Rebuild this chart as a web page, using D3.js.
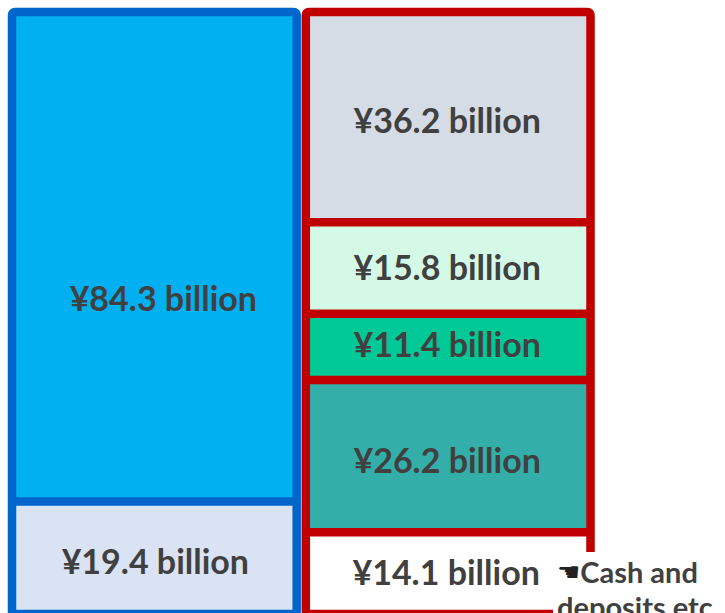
<!DOCTYPE html>
<html>
<head>
<meta charset="utf-8">
<script src="https://cdn.jsdelivr.net/npm/d3@7"></script>
<style>
  body { margin: 0; background: #fff; }
  svg { display: block; }
</style>
</head>
<body>
<div id="chart-area"></div>
<script>
// data (billions of yen)
var columns = ["left", "right"];
var leftValues = [84.3, 19.4];
var rightValues = [36.2, 15.8, 11.4, 26.2, 14.1];
var noteLines = ["Cash and", "deposits etc."];

var width = 725, height = 613;

// styles
var leftFills = ["#00B0F0", "#DAE3F3"];
var rightFills = ["#D6DCE5", "#D4F9E6", "#00C896", "#33AEA8", "#FFFFFF"];
var borderColors = {left: "#0066CC", right: "#C00000"};
var labelColor = "#404040";
// manual label nudges (dx, dy) like the original hand placed labels
var leftNudge = [[9, 42], [1, 4]];
var rightNudge = [[-1, 4], [-1, 0], [-1, -2], [-1, 5], [-2, 0]];

var svg = d3.select("#chart-area")
    .append("svg")
    .attr("width", width)
    .attr("height", height);

var total = d3.sum(leftValues);

// scales
var x = d3.scaleBand()
    .domain(columns)
    .range([12, 590.5])
    .paddingInner(0.031);

var y = d3.scaleLinear()
    .domain([0, total])
    .range([12, 614]);

function stack(values) {
    var out = [], acc = 0;
    for (var i = 0; i < values.length; i++) {
        out.push({y0: acc, y1: acc + values[i], value: values[i], i: i});
        acc += values[i];
    }
    return out;
}

function drawColumn(name, values, fills, nudge) {
    var segs = stack(values);
    var color = borderColors[name];
    var x0 = x(name), bw = x.bandwidth();
    var g = svg.append("g").attr("class", "col-" + name);

    g.selectAll("rect.seg")
        .data(segs)
        .enter()
        .append("rect")
        .attr("class", "seg")
        .attr("x", x0)
        .attr("y", function (d) { return y(d.y0); })
        .attr("width", bw)
        .attr("height", function (d) { return y(d.y1) - y(d.y0); })
        .attr("fill", function (d) { return fills[d.i]; });

    // dividers between segments
    g.selectAll("line.div")
        .data(segs.slice(0, segs.length - 1))
        .enter()
        .append("line")
        .attr("x1", x0)
        .attr("x2", x0 + bw)
        .attr("y1", function (d) { return y(d.y1); })
        .attr("y2", function (d) { return y(d.y1); })
        .attr("stroke", color)
        .attr("stroke-width", 8.5);

    // outer border
    g.append("rect")
        .attr("x", x0)
        .attr("y", y(0))
        .attr("width", bw)
        .attr("height", y(total) - y(0))
        .attr("rx", 3)
        .attr("fill", "none")
        .attr("stroke", color)
        .attr("stroke-width", 8.5);

    g.selectAll("text.lbl")
        .data(segs)
        .enter()
        .append("text")
        .attr("class", "lbl")
        .attr("x", function (d) { return x0 + bw / 2 + nudge[d.i][0]; })
        .attr("y", function (d) { return (y(d.y0) + y(d.y1)) / 2 + nudge[d.i][1]; })
        .attr("dy", "0.35em")
        .attr("text-anchor", "middle")
        .attr("font-family", "Lato, 'Open Sans', sans-serif")
        .attr("font-weight", "bold")
        .attr("font-size", "34px")
        .attr("fill", labelColor)
        .text(function (d) { return "¥" + d.value.toFixed(1) + " billion"; });
}

drawColumn("left", leftValues, leftFills, leftNudge);
drawColumn("right", rightValues, rightFills, rightNudge);

// callout box for the bottom right segment
var note = svg.append("g").attr("class", "note");
note.append("rect")
    .attr("x", 553)
    .attr("y", 552)
    .attr("width", width - 553)
    .attr("height", height - 552)
    .attr("fill", "#fff");

var noteText = note.append("text")
    .attr("x", 557)
    .attr("y", 583)
    .attr("font-family", "Lato, 'Open Sans', sans-serif")
    .attr("font-weight", "bold")
    .attr("font-size", "29px")
    .attr("fill", labelColor);

noteText.append("tspan")
    .attr("font-family", "'DejaVu Sans', sans-serif")
    .attr("font-size", "26px")
    .attr("dy", -2)
    .attr("fill", "#222")
    .text("\u261A");
noteText.append("tspan")
    .attr("dy", 2)
    .text(noteLines[0]);
noteText.append("tspan")
    .attr("x", 557)
    .attr("dy", 35)
    .text(noteLines[1]);
</script>
</body>
</html>
